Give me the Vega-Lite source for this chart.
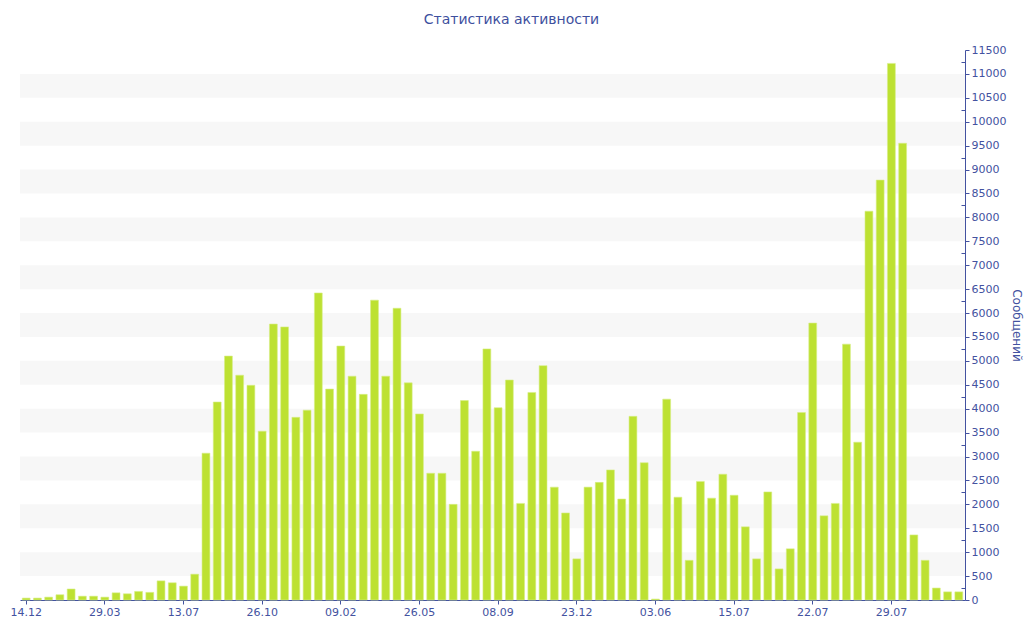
{
  "$schema": "https://vega.github.io/schema/vega-lite/v6.json",
  "autosize": {"type": "none"},
  "width": 945,
  "height": 550,
  "padding": {"left": 20, "top": 50, "right": 59, "bottom": 40},
  "background": "#ffffff",
  "title": {
    "text": "Статистика активности",
    "font": "DejaVu Sans",
    "fontSize": 14,
    "fontWeight": "normal",
    "color": "#3e4f9e",
    "anchor": "middle",
    "dx": 19,
    "offset": 17
  },
  "config": {
    "view": {"stroke": null},
    "axis": {
      "labelFont": "DejaVu Sans",
      "labelFontSize": 11,
      "labelColor": "#4352a0",
      "titleFont": "DejaVu Sans",
      "titleFontSize": 12,
      "titleFontWeight": "normal",
      "titleColor": "#4352a0",
      "domainColor": "#4352a0",
      "tickColor": "#4352a0",
      "grid": false
    }
  },
  "datasets": {
    "bands": [
      {"lo": 500, "hi": 1000}, {"lo": 1500, "hi": 2000}, {"lo": 2500, "hi": 3000},
      {"lo": 3500, "hi": 4000}, {"lo": 4500, "hi": 5000}, {"lo": 5500, "hi": 6000},
      {"lo": 6500, "hi": 7000}, {"lo": 7500, "hi": 8000}, {"lo": 8500, "hi": 9000},
      {"lo": 9500, "hi": 10000}, {"lo": 10500, "hi": 11000}
    ],
    "activity": [
      {"date": "14.12.09", "messages": 40},
      {"date": "29.12.09", "messages": 40},
      {"date": "13.01.10", "messages": 60},
      {"date": "28.01.10", "messages": 110},
      {"date": "12.02.10", "messages": 230},
      {"date": "27.02.10", "messages": 80},
      {"date": "14.03.10", "messages": 80},
      {"date": "29.03.10", "messages": 60},
      {"date": "13.04.10", "messages": 150},
      {"date": "28.04.10", "messages": 130},
      {"date": "13.05.10", "messages": 180},
      {"date": "28.05.10", "messages": 160},
      {"date": "12.06.10", "messages": 400},
      {"date": "27.06.10", "messages": 360},
      {"date": "13.07.10", "messages": 290},
      {"date": "28.07.10", "messages": 540},
      {"date": "12.08.10", "messages": 3070},
      {"date": "27.08.10", "messages": 4140},
      {"date": "11.09.10", "messages": 5100},
      {"date": "26.09.10", "messages": 4700},
      {"date": "11.10.10", "messages": 4490},
      {"date": "26.10.10", "messages": 3530},
      {"date": "10.11.10", "messages": 5770},
      {"date": "25.11.10", "messages": 5710},
      {"date": "10.12.10", "messages": 3820},
      {"date": "25.12.10", "messages": 3970},
      {"date": "09.01.11", "messages": 6420},
      {"date": "25.01.11", "messages": 4410},
      {"date": "09.02.11", "messages": 5310},
      {"date": "24.02.11", "messages": 4680},
      {"date": "11.03.11", "messages": 4300},
      {"date": "26.03.11", "messages": 6270},
      {"date": "10.04.11", "messages": 4680},
      {"date": "25.04.11", "messages": 6100},
      {"date": "10.05.11", "messages": 4540},
      {"date": "26.05.11", "messages": 3890},
      {"date": "10.06.11", "messages": 2650},
      {"date": "25.06.11", "messages": 2650},
      {"date": "10.07.11", "messages": 2000},
      {"date": "25.07.11", "messages": 4170},
      {"date": "09.08.11", "messages": 3110},
      {"date": "24.08.11", "messages": 5250},
      {"date": "08.09.11", "messages": 4020},
      {"date": "23.09.11", "messages": 4600},
      {"date": "08.10.11", "messages": 2020},
      {"date": "23.10.11", "messages": 4340},
      {"date": "07.11.11", "messages": 4900},
      {"date": "22.11.11", "messages": 2360},
      {"date": "07.12.11", "messages": 1820},
      {"date": "23.12.11", "messages": 860},
      {"date": "15.01.12", "messages": 2360},
      {"date": "07.02.12", "messages": 2460},
      {"date": "01.03.12", "messages": 2720},
      {"date": "24.03.12", "messages": 2110},
      {"date": "16.04.12", "messages": 3840},
      {"date": "10.05.12", "messages": 2870},
      {"date": "03.06.12", "messages": 20},
      {"date": "09.06.12", "messages": 4200},
      {"date": "15.06.12", "messages": 2150},
      {"date": "21.06.12", "messages": 830},
      {"date": "27.06.12", "messages": 2480},
      {"date": "03.07.12", "messages": 2130},
      {"date": "09.07.12", "messages": 2630},
      {"date": "15.07.12", "messages": 2190},
      {"date": "16.07.12", "messages": 1530},
      {"date": "17.07.12", "messages": 860},
      {"date": "18.07.12", "messages": 2260},
      {"date": "19.07.12", "messages": 650},
      {"date": "20.07.12", "messages": 1070},
      {"date": "21.07.12", "messages": 3920},
      {"date": "22.07.12", "messages": 5790},
      {"date": "23.07.12", "messages": 1760},
      {"date": "24.07.12", "messages": 2020},
      {"date": "25.07.12", "messages": 5350},
      {"date": "26.07.12", "messages": 3300},
      {"date": "27.07.12", "messages": 8130},
      {"date": "28.07.12", "messages": 8780},
      {"date": "29.07.12", "messages": 11220},
      {"date": "30.07.12", "messages": 9550},
      {"date": "31.07.12", "messages": 1360},
      {"date": "01.08.12", "messages": 830},
      {"date": "02.08.12", "messages": 250},
      {"date": "03.08.12", "messages": 170},
      {"date": "04.08.12", "messages": 170}
    ]
  },
  "layer": [
    {
      "data": {"name": "bands"},
      "mark": {"type": "rect", "color": "#f7f7f7"},
      "encoding": {
        "y": {
          "field": "lo",
          "type": "quantitative",
          "scale": {"domain": [0, 11500], "nice": false, "zero": true},
          "axis": {
            "orient": "right",
            "values": [250, 750, 1250, 1750, 2250, 2750, 3250, 3750, 4250, 4750, 5250, 5750, 6250, 6750, 7250, 7750, 8250, 8750, 9250, 9750, 10250, 10750, 11250],
            "labels": false,
            "domain": false,
            "tickSize": -4,
            "title": null
          }
        },
        "y2": {"field": "hi"}
      }
    },
    {
      "data": {"name": "activity"},
      "mark": {"type": "bar", "color": "#bde132", "stroke": "#d6ee86", "strokeWidth": 0.6},
      "encoding": {
        "x": {
          "field": "date",
          "type": "ordinal",
          "sort": null,
          "scale": {"paddingInner": 0.3, "paddingOuter": 0.2},
          "axis": {
            "title": null,
            "values": ["14.12.09", "29.03.10", "13.07.10", "26.10.10", "09.02.11", "26.05.11", "08.09.11", "23.12.11", "03.06.12", "15.07.12", "22.07.12", "29.07.12"],
            "labelExpr": "substring(datum.value, 0, 5)",
            "labelAngle": 0,
            "tickSize": 4,
            "labelPadding": 2
          }
        },
        "y": {
          "field": "messages",
          "type": "quantitative",
          "axis": {
            "orient": "right",
            "title": "Сообщений",
            "format": "d",
            "tickCount": 23,
            "tickSize": 4,
            "labelPadding": 2,
            "titlePadding": 4
          }
        }
      }
    }
  ],
  "resolve": {"axis": {"y": "independent"}}
}
